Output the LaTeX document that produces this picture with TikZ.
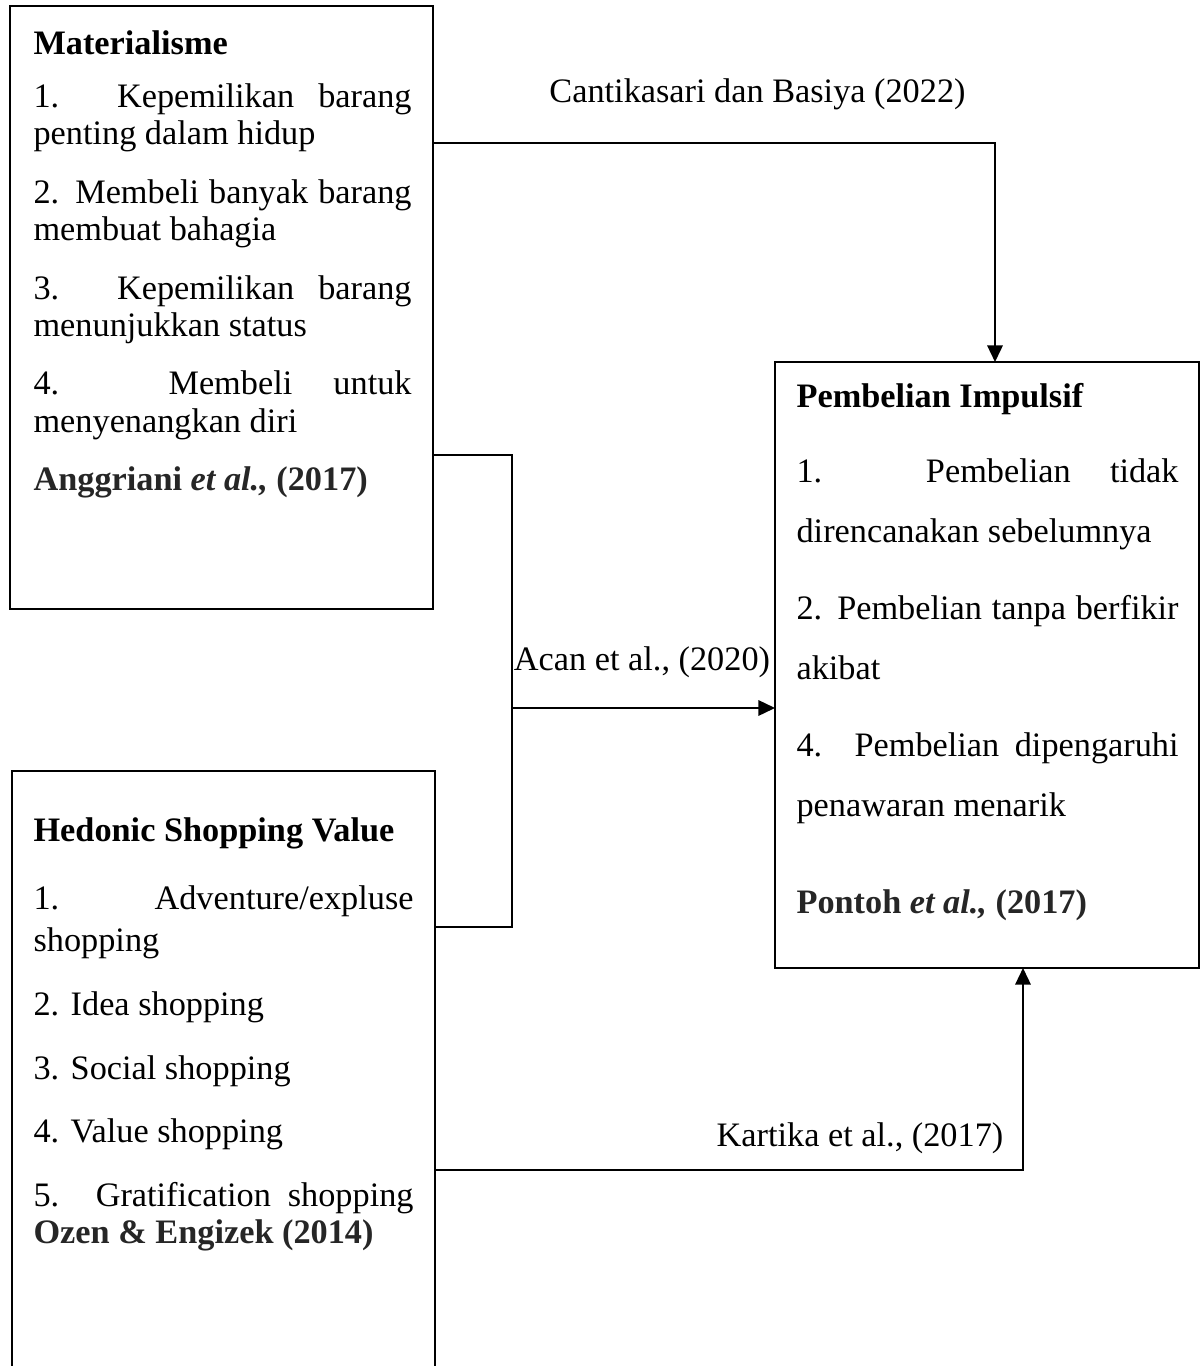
\documentclass[tikz,border=0pt]{standalone}
\usepackage{fontspec}
\setmainfont{Liberation Serif}
\usetikzlibrary{arrows.meta,positioning,calc}
\newcommand\PX{0.35pt}
\tikzset
{
    varbox/.style   = {rectangle, draw=black, line width=0.8pt, inner sep=0pt, outer sep=0pt},
    vartext/.style  = {anchor=base west, inner sep=0pt, text width=#1, align=justify,
                       font=\fontsize{12pt}{13pt}\selectfont},
    link/.style     = {line width=0.65pt, -{Triangle[length=5.8pt, width=5.4pt]}},
    bracket/.style  = {line width=0.45pt},
    cite/.style     = {inner sep=0pt, font=\fontsize{12pt}{13pt}\selectfont}
}
\newcommand\REFSTYLE{\bfseries\color{black!85}}

\begin{document}
\begin{tikzpicture}[x=\PX, y=-\PX]
    \useasboundingbox (0,0) rectangle (1200,1366);
    \clip (0,0) rectangle (1200,1366);

    % boxes
    \node (mat) [varbox, minimum width={423*\PX}, minimum height={603*\PX}] at (221.5, 307.5) {};
    \node (hed) [varbox, minimum width={423*\PX}, minimum height={629*\PX}] at (223.5, 1085.5) {};
    \node (pem) [varbox, minimum width={424*\PX}, minimum height={606*\PX}] at (987, 665) {};

    % box texts
    \node (matt) [vartext={378*\PX}] at (33, 55)
        {\hyphenpenalty=10000 \tolerance=9999 \setlength{\parskip}{7.5pt}%
         {\bfseries Materialisme}\par\vspace{-2pt}
         1. Kepemilikan barang penting dalam hidup\par
         2. Membeli banyak barang membuat bahagia\par
         3. Kepemilikan barang menunjukkan status\par
         4. Membeli untuk menyenangkan diri\par
         {\REFSTYLE Anggriani \textit{et al.,} (2017)}};
    \node (hedt) [vartext={380*\PX}] at (33, 841)
        {\hyphenpenalty=10000 \tolerance=9999 \setlength{\parskip}{9.35pt}%
         {\bfseries Hedonic Shopping Value}\par\vspace{1.5pt}
         1. Adventure/expluse\vadjust{\vskip1.75pt} shopping\par
         2. Idea shopping\par
         3. Social shopping\par
         4. Value shopping\par
         5. Gratification shopping\linebreak
         {\REFSTYLE Ozen \& Engizek (2014)}};
    \node (pemt) [vartext={382*\PX}] at (796, 407)
        {\hyphenpenalty=10000 \tolerance=9999 \setlength{\baselineskip}{21pt}%
         \setlength{\parskip}{6pt}%
         {\bfseries Pembelian Impulsif}\par\vspace{-0.7pt}
         1. Pembelian tidak direncanakan sebelumnya\par
         2. Pembelian tanpa berfikir akibat\par
         4. Pembelian dipengaruhi penawaran menarik\par\vspace{15pt}
         {\REFSTYLE Pontoh \textit{et al.,} (2017)}};

    % citations on the links
    \node (cant) [cite] at (757.5, 94)  {Cantikasari dan Basiya (2022)};
    \node (acan) [cite] at (642, 662)   {Acan et al., (2020)};
    \node (kart) [cite] at (860, 1138)  {Kartika et al., (2017)};

    % links
    \coordinate (jn) at (512, 708);
    \draw[link]    ($(mat.north east)+(0,137)$) -| ($(pem.north)+(8,0)$);
    \draw[bracket] ($(mat.north east)+(0,449)$) -| (jn) |- ($(hed.north east)+(0,156)$);
    \draw[link]    (jn) -- (pem.west |- jn);
    \draw[link]    ($(hed.north east)+(0,399)$) -| ($(pem.south)+(36,0)$);
\end{tikzpicture}
\end{document}
